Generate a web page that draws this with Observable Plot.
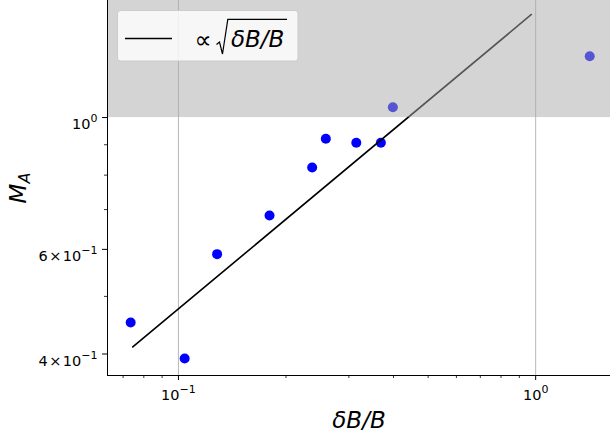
<!DOCTYPE html>
<html><head><meta charset="utf-8">
<script src="https://cdn.jsdelivr.net/npm/d3@7"></script>
<script src="https://cdn.jsdelivr.net/npm/@observablehq/plot@0.6"></script>
<style>body{margin:0;background:#fff} svg{display:block}</style>
</head><body><div id="chart"></div>
<script>
// data
const deltaB = [0.0735, 0.1041, 0.1283, 0.1799, 0.2368, 0.2586, 0.3147, 0.3687, 0.3983, 1.417];
const machA  = [0.452, 0.393, 0.589, 0.684, 0.824, 0.921, 0.907, 0.907, 1.041, 1.268];
const fitX = [0.0745, 0.973];
const fitY = [0.411, 1.491];
const xTicks = [0.1, 1];
const xTickLabels = ["10⁻¹", "10⁰"];
const xMinor = [0.07, 0.08, 0.09, 0.2, 0.3, 0.4, 0.5, 0.6, 0.7, 0.8, 0.9];
const yTicks = [0.4, 0.6, 1];
const yTickLabels = ["4×10⁻¹", "6×10⁻¹", "10⁰"];
const yMinor = [0.5, 0.7, 0.8, 0.9];
const shadeFrom = 1;
const xDomain = [0.0633, 1.62];
const yDomain = [0.368, 1.574];

const points = deltaB.map((x, i) => ({x, y: machA[i]}));
const fit = fitX.map((x, i) => ({x, y: fitY[i]}));
const shade = [{x1: xDomain[0], x2: xDomain[1], y1: shadeFrom, y2: yDomain[1]}];

const plot = Plot.plot({
  width: 610, height: 438,
  marginLeft: 107, marginRight: 0, marginTop: 0, marginBottom: 63,
  style: {fontFamily: "DejaVu Sans", fontSize: "14px", background: "#fff", color: "#000"},
  x: {type: "log", domain: xDomain},
  y: {type: "log", domain: yDomain},
  marks: [
    Plot.ruleX(xTicks, {stroke: "#b0b0b0", strokeWidth: 0.9}),
    Plot.dot(points, {x: "x", y: "y", r: 5, fill: "#0000ff", stroke: "none"}),
    Plot.line(fit, {x: "x", y: "y", stroke: "#000", strokeWidth: 1.6}),
    Plot.rect(shade, {x1: "x1", x2: "x2", y1: "y1", y2: "y2", fill: "#a9a9a9", fillOpacity: 0.5}),
    Plot.ruleX([xDomain[0]], {stroke: "#000", strokeWidth: 1}),
    Plot.ruleY([yDomain[0]], {stroke: "#000", strokeWidth: 1}),
    Plot.axisX(xTicks, {tickSize: 5, tickPadding: 9, strokeWidth: 1, tickFormat: d => xTickLabels[xTicks.indexOf(d)], label: null}),
    Plot.axisX(xMinor, {tickSize: 3, strokeWidth: 0.8, tickFormat: () => "", label: null}),
    Plot.axisY(yTicks, {tickSize: 5, tickPadding: 5, strokeWidth: 1, tickFormat: d => yTickLabels[yTicks.indexOf(d)], label: null}),
    Plot.axisY(yMinor, {tickSize: 3, strokeWidth: 0.8, tickFormat: () => "", label: null})
  ]
});
document.getElementById("chart").appendChild(plot);

// render superscript exponents as raised tspans (like mathtext)
const supChars = "⁻⁰¹²³⁴⁵⁶⁷⁸⁹", normChars = "−0123456789";
plot.querySelectorAll("text").forEach(t => {
  const s = t.textContent;
  const m = s.match(/^([^⁻⁰¹²³⁴⁵⁶⁷⁸⁹]*)([⁻⁰¹²³⁴⁵⁶⁷⁸⁹]+)$/);
  if (!m) return;
  const sup = [...m[2]].map(c => normChars[supChars.indexOf(c)]).join("");
  const parts = m[1].split("×");
  const isY = t.closest("g") && (t.closest("g").getAttribute("aria-label") || "").startsWith("y");
  t.textContent = "";
  t.setAttribute("font-size", "14.5");
  t.setAttribute("font-family", "DejaVu Sans");
  t.setAttribute("fill", "#000");
  const ns = "http://www.w3.org/2000/svg";
  const add = (txt, attrs) => {
    const ts = document.createElementNS(ns, "tspan");
    ts.textContent = txt;
    for (const k in attrs) ts.setAttribute(k, attrs[k]);
    t.appendChild(ts);
  };
  parts.forEach((p, i) => {
    if (i > 0) add("×", {dx: 1.5});
    add(p, i > 0 ? {dx: 1.5} : {});
  });
  add(sup, {"font-size": 11, dy: -7});
  if (isY) t.setAttribute("dy", "0.5em");
});

const svg = d3.select(plot);
// axis labels
svg.append("text").attr("x", 359).attr("y", 428).attr("text-anchor", "middle")
  .attr("font-family", "DejaVu Sans").attr("font-style", "italic").attr("font-size", 23).attr("fill", "#000")
  .text("δB/B");
const yl = svg.append("text").attr("transform", "translate(26,188) rotate(-90)").attr("text-anchor", "middle")
  .attr("font-family", "DejaVu Sans").attr("font-style", "italic").attr("font-size", 23).attr("fill", "#000");
yl.append("tspan").text("M");
yl.append("tspan").attr("font-size", 16).attr("dy", 4).text("A");

// legend
const lg = svg.append("g").attr("text-anchor", "start");
lg.append("rect").attr("x", 117.5).attr("y", 10.5).attr("width", 180.5).attr("height", 50.5).attr("rx", 3)
  .attr("fill", "#fff").attr("fill-opacity", 0.8).attr("stroke", "#cccccc").attr("stroke-width", 1);
lg.append("line").attr("x1", 125).attr("x2", 172).attr("y1", 38.5).attr("y2", 38.5)
  .attr("stroke", "#000").attr("stroke-width", 1.6);
lg.append("text").attr("x", 194.5).attr("y", 47.5).attr("font-family", "DejaVu Sans").attr("font-size", 24).attr("fill", "#000").text("∝");
lg.append("path").attr("d", "M216.5,44.5 L219.5,42 L222.5,54 L227.8,19.3 L287,19.3")
  .attr("fill", "none").attr("stroke", "#000").attr("stroke-width", 1.2).attr("stroke-linejoin", "miter");
lg.append("text").attr("x", 231).attr("y", 47).attr("font-family", "DejaVu Sans").attr("font-style", "italic").attr("font-size", 23).attr("fill", "#000").text("δB/B");
</script></body></html>
